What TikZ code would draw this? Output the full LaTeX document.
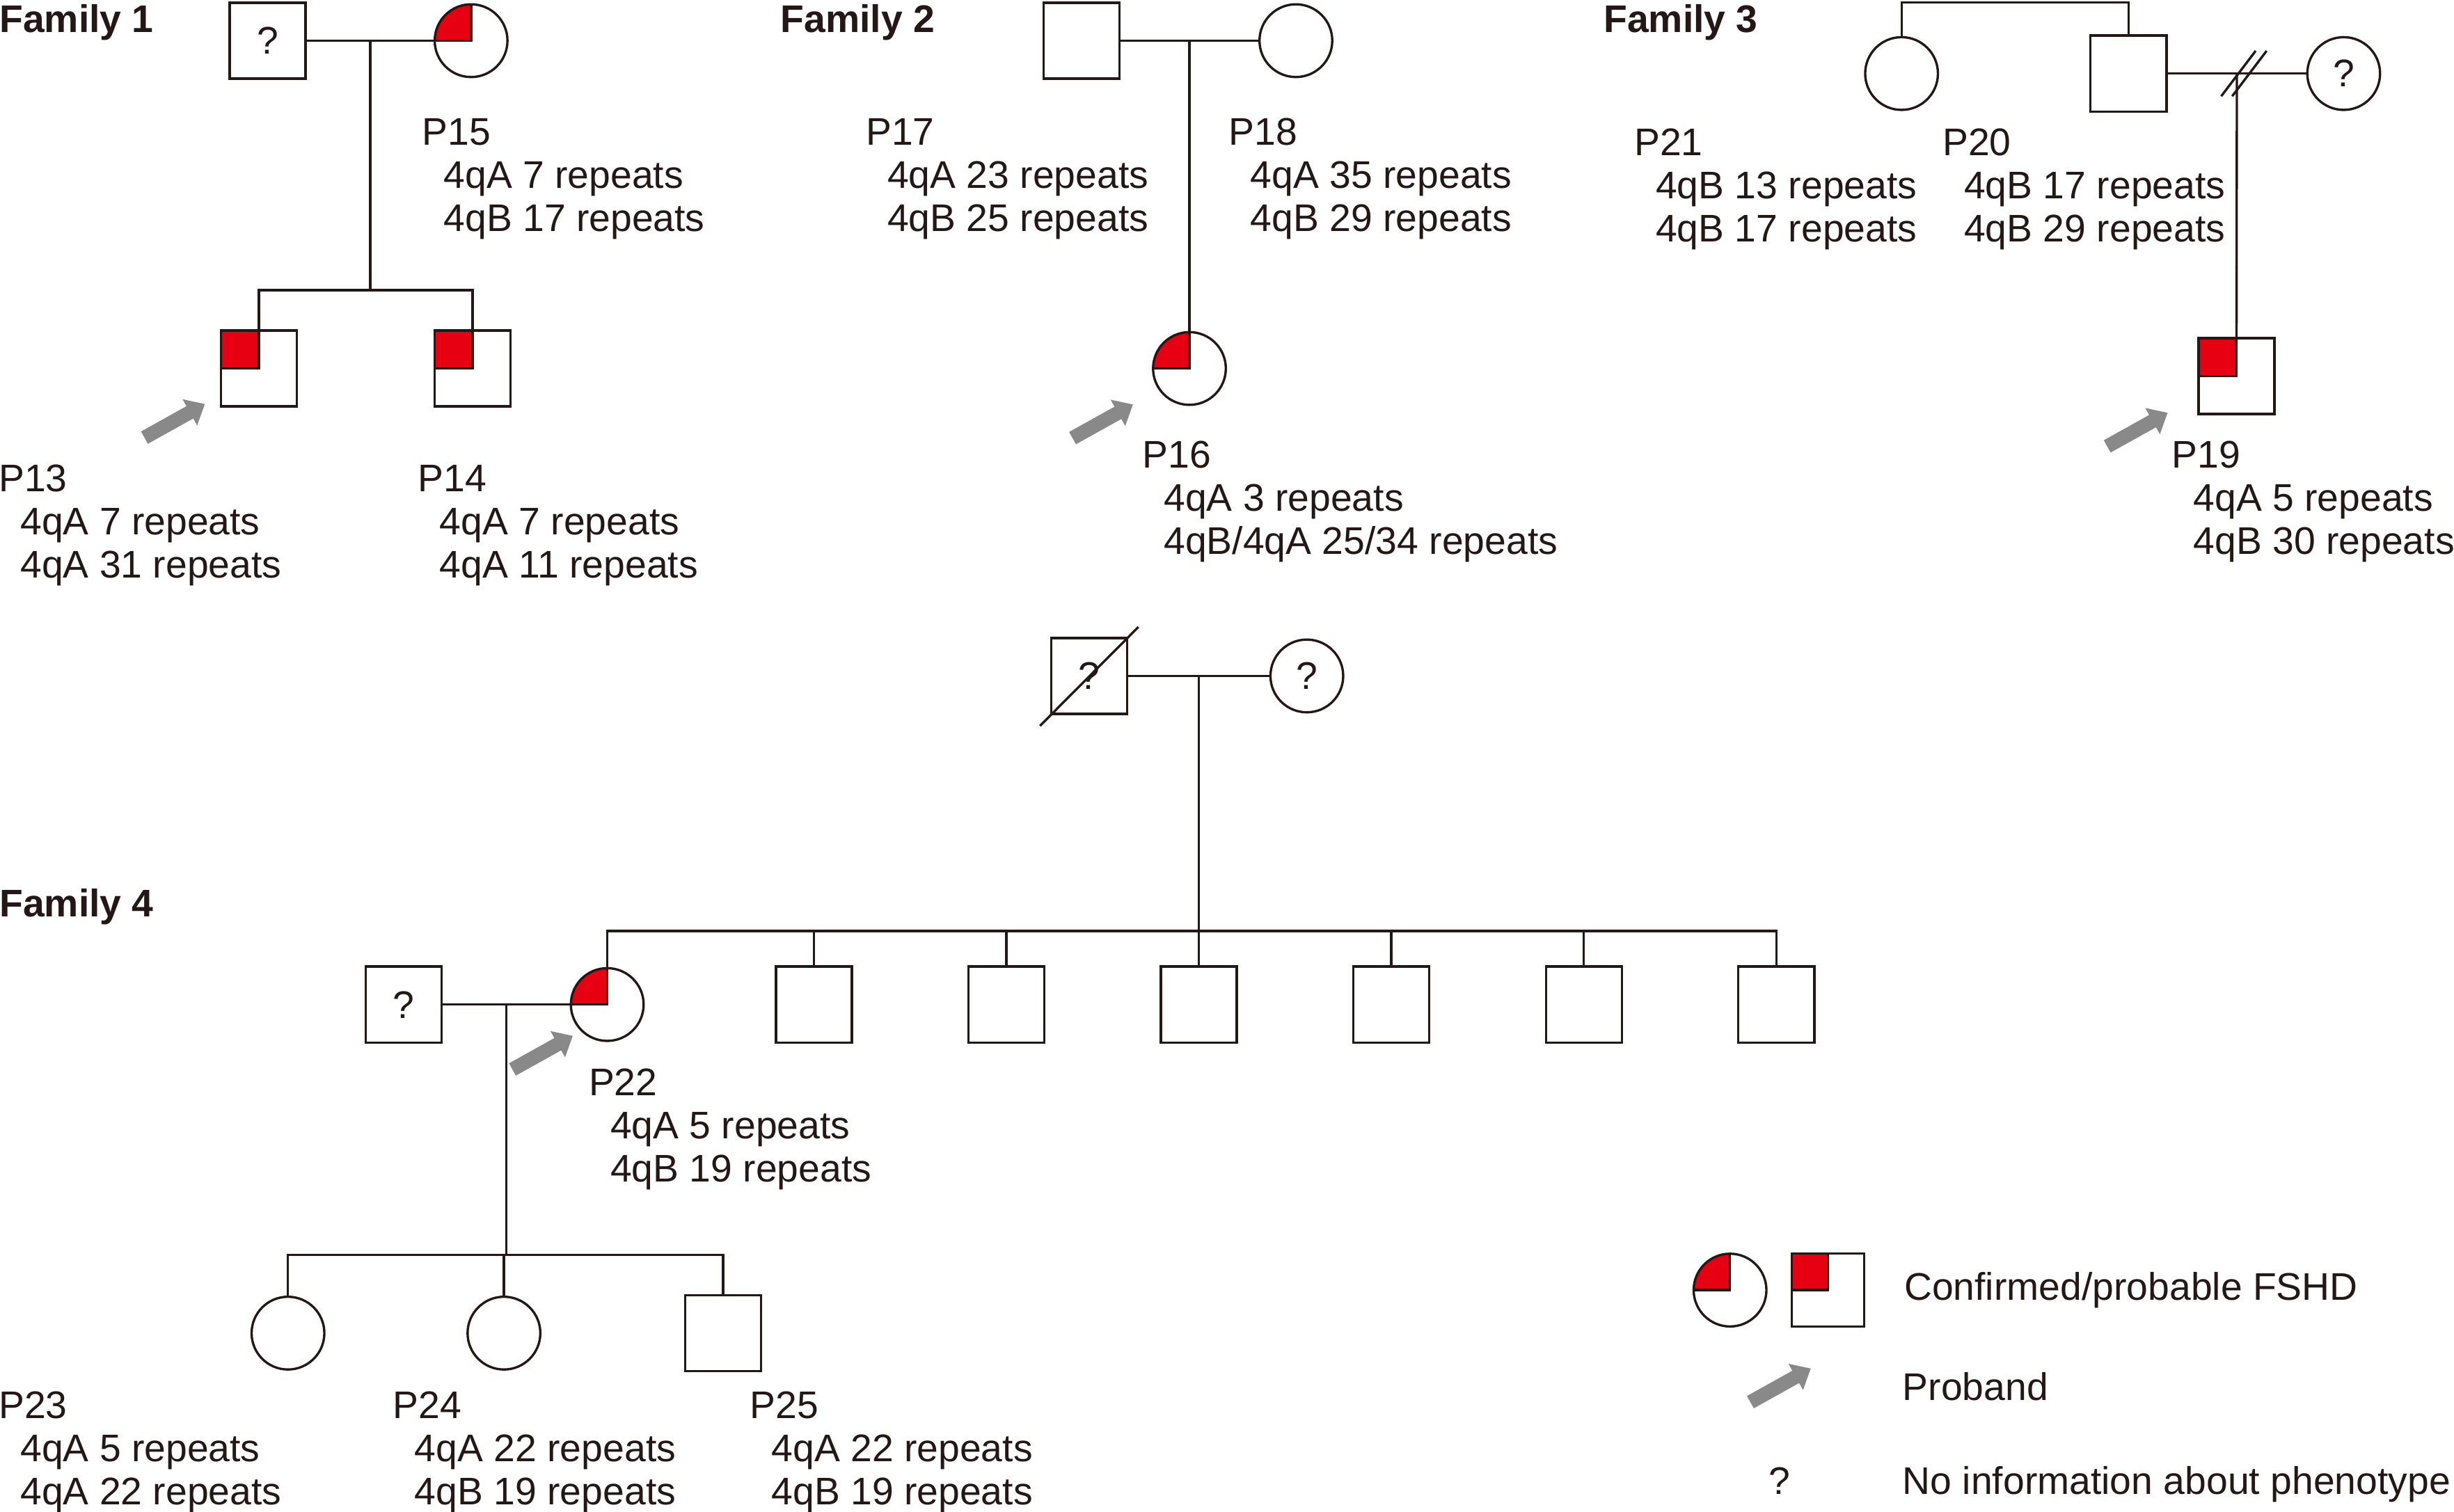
\documentclass[tikz,border=0pt]{standalone}
\usepackage{fontspec}
\setmainfont{Liberation Sans}
\usetikzlibrary{arrows.meta,calc,positioning}
\definecolor{ink}{HTML}{231815}
\definecolor{fshdred}{HTML}{E60012}
\definecolor{probgray}{HTML}{898989}
\tikzset{
    male/.style={draw, rectangle, minimum size=0.97cm, inner sep=0pt},
    female/.style={draw, circle, minimum size=0.93cm, inner sep=0pt},
    fshd/.style={path picture={\filldraw[fill=fshdred, draw=ink]
        (path picture bounding box.center) rectangle (path picture bounding box.north west);}},
    proband/.style={probgray, line width=0.18cm, -{Triangle[length=0.22cm, width=0.37cm]}},
    lbl/.style={anchor=base west, inner sep=0pt},
    famtitle/.style={lbl, font=\fontsize{14}{15.7}\selectfont\bfseries}
}
\newcommand{\pinfo}[5]{\node[lbl] (#1) at (#2)
    {\begin{tabular}[t]{@{}l@{}}#3\\\hspace*{0.56em}#4\\\hspace*{0.56em}#5\end{tabular}};}
\begin{document}
\begin{tikzpicture}[x=0.02cm, y=-0.02cm, color=ink, line width=0.85pt, font=\fontsize{14}{15.7}\selectfont]
\useasboundingbox (0,0) rectangle (1568,966);
% Family 1
\node[famtitle] (fam1) at (-1,20.8) {Family 1};
\node[male] (f1dad) at (171,26) {?};
\node[female, fshd] (p15) at (301,26) {};
\node[male, fshd] (p13) at (165.5,235.5) {};
\node[male, fshd] (p14) at (302,235.5) {};
\coordinate (f1m) at ($(f1dad.east)!0.5!(p15.west)$);
\coordinate (f1sib) at ($(f1m)+(0,159.5)$);
\draw (f1dad) -- (p15);
\draw (f1m) -- (f1sib);
\draw (p13) |- (f1sib) -| (p14);
\coordinate (p13tip) at ($(p13.south west)+(-9.6,-2.3)$);
\draw[proband] ($(p13tip)+(-38.6,21.5)$) -- (p13tip);
\pinfo{p15lbl}{269,92.8}{P15}{4qA 7 repeats}{4qB 17 repeats}
\pinfo{p13lbl}{-1.5,314.3}{P13}{4qA 7 repeats}{4qA 31 repeats}
\pinfo{p14lbl}{266.5,314.3}{P14}{4qA 7 repeats}{4qA 11 repeats}
% Family 2
\node[famtitle] (fam2) at (498,20.8) {Family 2};
\node[male] (p17) at (691,26) {};
\node[female] (p18) at (828,26) {};
\node[female, fshd] (p16) at (760,235.5) {};
\coordinate (f2m) at ($(p17.east)!0.5!(p18.west)$);
\draw (p17) -- (p18);
\draw (f2m) -- (p16);
\coordinate (p16tip) at ($(p16)+(-36.1,23)$);
\draw[proband] ($(p16tip)+(-38.6,21.5)$) -- (p16tip);
\pinfo{p17lbl}{552.5,92.8}{P17}{4qA 23 repeats}{4qB 25 repeats}
\pinfo{p18lbl}{784.5,92.8}{P18}{4qA 35 repeats}{4qB 29 repeats}
\pinfo{p16lbl}{729.2,298.9}{P16}{4qA 3 repeats}{4qB/4qA 25/34 repeats}
% Family 3
\node[famtitle] (fam3) at (1024,20.8) {Family 3};
\node[female] (p21) at (1215,47) {};
\node[male] (p20) at (1360,47) {};
\node[female] (f3wife) at (1497.5,47) {?};
\node[male, fshd] (p19) at (1429,240.3) {};
\coordinate (f3top) at (1288,1.5);
\coordinate (f3m) at ($(p20.east)!0.5!(f3wife.west)$);
\draw (p21) |- (f3top) -| (p20);
\draw (p20) -- (f3wife);
\draw (f3m) -- (p19);
\draw ($(f3m)+(-10,14.5)$) -- ++(22,-29)
      ($(f3m)+(-3,14.5)$) -- ++(22,-29);
\coordinate (p19tip) at ($(p19.south west)+(-19,-1.5)$);
\draw[proband] ($(p19tip)+(-38.6,21.5)$) -- (p19tip);
\pinfo{p21lbl}{1043.5,99.3}{P21}{4qB 13 repeats}{4qB 17 repeats}
\pinfo{p20lbl}{1240.5,99.3}{P20}{4qB 17 repeats}{4qB 29 repeats}
\pinfo{p19lbl}{1387,298.9}{P19}{4qA 5 repeats}{4qB 30 repeats}
% Family 4
\node[famtitle] (fam4) at (-1,585.8) {Family 4};
\node[male] (f4gdad) at (696,432) {?};
\draw ($(f4gdad.south west)+(-6.5,6.9)$) -- ($(f4gdad.north east)+(6.4,-6.3)$);
\node[female] (f4gmom) at (835,432) {?};
\coordinate (f4m) at ($(f4gdad.east)!0.5!(f4gmom.west)$);
\coordinate (f4sib) at ($(f4m)+(0,163)$);
\draw (f4gdad) -- (f4gmom);
\draw (f4m) -- (f4sib);
\node[female, fshd] (p22) at (388,642) {};
\foreach \i in {1,...,6}
    \node[male] (s\i) at ({520+123*(\i-1)},642) {};
\draw (p22) |- (f4sib) -| (s6);
\foreach \i in {1,...,5}
    \draw (s\i) -- (s\i |- f4sib);
\node[male] (f4husb) at (258,642) {?};
\coordinate (f4m2) at ($(f4husb.east)!0.5!(p22.west)$);
\coordinate (f4sib2) at ($(f4m2)+(0,160)$);
\draw (f4husb) -- (p22);
\draw (f4m2) -- (f4sib2);
\node[female] (p23) at (184,852) {};
\node[female] (p24) at (322,852) {};
\node[male] (p25) at (462,852) {};
\draw (p23) |- (f4sib2) -| (p25);
\draw (p24) -- (p24 |- f4sib2);
\coordinate (p22tip) at ($(p22)+(-22,20)$);
\draw[proband] ($(p22tip)+(-38.6,21.5)$) -- (p22tip);
\pinfo{p22lbl}{375.5,700.3}{P22}{4qA 5 repeats}{4qB 19 repeats}
\pinfo{p23lbl}{-1.5,906.3}{P23}{4qA 5 repeats}{4qA 22 repeats}
\pinfo{p24lbl}{250.5,906.3}{P24}{4qA 22 repeats}{4qB 19 repeats}
\pinfo{p25lbl}{478.5,906.3}{P25}{4qA 22 repeats}{4qB 19 repeats}
% key
\node[female, fshd] (keyf) at (1105.4,824.5) {};
\node[male, fshd, minimum size=0.93cm] (keym) at (1168,824.5) {};
\node[lbl] (keyfshd) at (1216,830.8) {Confirmed/probable FSHD};
\coordinate (keytip) at (1157,874.6);
\draw[proband] ($(keytip)+(-38.6,21.5)$) -- (keytip);
\node[lbl] (keyprob) at (1215,894.8) {Proband};
\node[anchor=base, inner sep=0pt] (keyq) at (1137,954.8) {?};
\node[lbl] (keyno) at (1215,954.8) {No information about phenotype};
\end{tikzpicture}
\end{document}
